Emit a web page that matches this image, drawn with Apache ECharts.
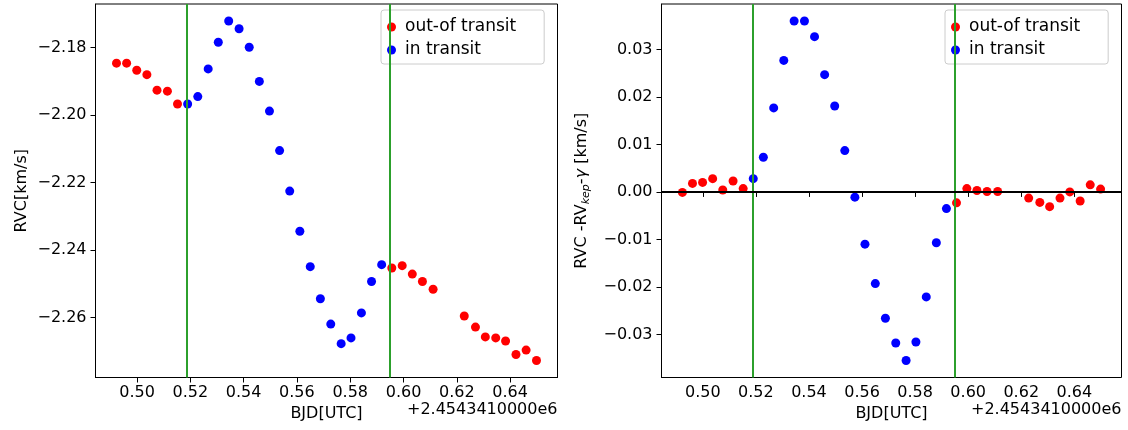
<!DOCTYPE html>
<html>
<head>
<meta charset="utf-8">
<script src="https://cdn.jsdelivr.net/npm/echarts@6/dist/echarts.min.js"></script>
<style>
  html, body { margin: 0; padding: 0; background: #ffffff; }
  #chart { width: 1128px; height: 430px; }
</style>
</head>
<body>
<div id="chart"></div>
<script>
// Observation times, days after BJD 2454341.0
const bjdOffset = [
  0.4923, 0.4961, 0.4999, 0.5037, 0.5075, 0.5114, 0.5152, 0.5190, 0.5228, 0.5267,
  0.5305, 0.5344, 0.5383, 0.5421, 0.5459, 0.5497, 0.5535, 0.5573, 0.5611, 0.5650,
  0.5688, 0.5727, 0.5766, 0.5803, 0.5842, 0.5880, 0.5918, 0.5956, 0.5995, 0.6033,
  0.6071, 0.6111, 0.6228, 0.6270, 0.6307, 0.6346, 0.6383, 0.6422, 0.6460, 0.6499
];
// Measured radial velocity [km/s]
const rvc = [
  -2.1846, -2.1846, -2.1867, -2.1880, -2.1926, -2.1929, -2.1967, -2.1967, -2.1945, -2.1863,
  -2.1784, -2.1721, -2.1744, -2.1799, -2.1900, -2.1988, -2.2105, -2.2225, -2.2344, -2.2449,
  -2.2544, -2.2619, -2.2677, -2.2660, -2.2586, -2.2493, -2.2443, -2.2453, -2.2446, -2.2471,
  -2.2493, -2.2516, -2.2595, -2.2628, -2.2657, -2.2660, -2.2669, -2.2709, -2.2696, -2.2727
];
// Residuals after removing the Keplerian orbit and systemic velocity [km/s]
const rvResidual = [
  -0.0001, 0.0018, 0.0020, 0.0028, 0.0004, 0.0023, 0.0007, 0.0028, 0.0073, 0.0177,
  0.0277, 0.0360, 0.0360, 0.0327, 0.0247, 0.0181, 0.0087, -0.0011, -0.0110, -0.0193,
  -0.0266, -0.0318, -0.0355, -0.0316, -0.0221, -0.0107, -0.0035, -0.0023, 0.0007, 0.0003,
  0.0001, 0.0001, -0.0013, -0.0022, -0.0031, -0.0013, 0.0000, -0.0019, 0.0015, 0.0006
];
// Transit ingress / egress times (same offset)
const transitEdges = [0.5188, 0.5948];

const xTicks = [0.50, 0.52, 0.54, 0.56, 0.58, 0.60, 0.62, 0.64];
const rvcTicks = [-2.18, -2.20, -2.22, -2.24, -2.26];
const residualTicks = [0.03, 0.02, 0.01, 0.00, -0.01, -0.02, -0.03];
const xOffsetLabel = '+2.4543410000e6';

const FONT = 'DejaVu Sans';
const OUT_NAME = 'out-of transit';
const IN_NAME = 'in transit';

// split points into in-transit / out-of-transit sets
function split(values) {
  const inside = [], outside = [];
  bjdOffset.forEach((t, i) => {
    const p = [t, values[i]];
    if (t >= transitEdges[0] && t <= transitEdges[1]) inside.push(p); else outside.push(p);
  });
  return { inside, outside };
}
// data limits padded by 5% on each side
function padded(arr) {
  const lo = Math.min(...arr), hi = Math.max(...arr), m = (hi - lo) * 0.05;
  return [lo - m, hi + m];
}

const xRange = padded(bjdOffset);
const rvcRange = padded(rvc);
const resRange = padded(rvResidual);
const fmt2 = v => v.toFixed(2).replace('-', '\u2212');

const leftSets = split(rvc);
const rightSets = split(rvResidual);

function xAxisFor(gridIndex) {
  return {
    type: 'value', gridIndex, min: xRange[0], max: xRange[1],
    name: 'BJD[UTC]', nameLocation: 'middle', nameGap: 24,
    nameTextStyle: { fontFamily: FONT, fontSize: 16, color: '#000', verticalAlign: 'top' },
    axisLine: { show: true, lineStyle: { color: '#000', width: 1 } },
    axisTick: { show: true, length: 5, inside: false, customValues: xTicks, lineStyle: { color: '#000', width: 1 } },
    axisLabel: { customValues: xTicks, formatter: fmt2, fontFamily: FONT, fontSize: 16, color: '#000', margin: 7 },
    splitLine: { show: false }
  };
}

function scatter(name, data, color, axisIndex) {
  return {
    type: 'scatter', name, data, xAxisIndex: axisIndex, yAxisIndex: axisIndex,
    symbolSize: 9, itemStyle: { color, opacity: 1 }, z: 2, silent: true, animation: false
  };
}

function guides(axisIndex, withZero) {
  const lines = transitEdges.map(t => ({ xAxis: t, lineStyle: { color: '#2ca02c', width: 2, type: 'solid' } }));
  if (withZero) lines.push({ yAxis: 0, lineStyle: { color: '#000', width: 2, type: 'solid' } });
  return {
    type: 'line', name: 'guides', data: [], xAxisIndex: axisIndex, yAxisIndex: axisIndex, z: 5,
    markLine: { silent: true, precision: 6, symbol: ['none', 'none'], label: { show: false }, animation: false, data: lines }
  };
}

// boxed legend in the upper right corner of a panel
function legendAt(left) {
  return {
    left, top: 10, orient: 'vertical', data: [OUT_NAME, IN_NAME],
    icon: 'circle', itemWidth: 17, itemHeight: 9, itemGap: 6, symbolKeepAspect: true,
    padding: [8.5, 28, 5.5, 6],
    backgroundColor: 'rgba(255,255,255,0.8)', borderColor: '#cccccc', borderWidth: 1, borderRadius: 3,
    textStyle: { fontFamily: FONT, fontSize: 17, color: '#000' },
    selectedMode: false
  };
}

const chart = echarts.init(document.getElementById('chart'), null, { renderer: 'canvas' });
chart.setOption({
  animation: false,
  backgroundColor: '#ffffff',
  grid: [
    { left: 95.5, top: 4, width: 462, height: 373.5, show: true, borderColor: '#000', borderWidth: 1, backgroundColor: 'transparent' },
    { left: 661.5, top: 4, width: 460, height: 373.5, show: true, borderColor: '#000', borderWidth: 1, backgroundColor: 'transparent' }
  ],
  xAxis: [xAxisFor(0), xAxisFor(1)],
  yAxis: [
    {
      type: 'value', gridIndex: 0, min: rvcRange[0], max: rvcRange[1],
      name: 'RVC[km/s]', nameLocation: 'middle', nameGap: 66,
      nameTextStyle: { fontFamily: FONT, fontSize: 16, color: '#000' },
      axisLine: { show: true, lineStyle: { color: '#000', width: 1 } },
      axisTick: { show: true, length: 5, customValues: rvcTicks, lineStyle: { color: '#000', width: 1 } },
      axisLabel: { customValues: rvcTicks, formatter: fmt2, fontFamily: FONT, fontSize: 16, color: '#000', margin: 9 },
      splitLine: { show: false }
    },
    {
      type: 'value', gridIndex: 1, min: resRange[0], max: resRange[1],
      name: 'RVC -RV{sub|kep}-{g|\u03b3} [km/s]', nameLocation: 'middle', nameGap: 70,
      nameTextStyle: {
        fontFamily: FONT, fontSize: 16, color: '#000', lineHeight: 20,
        rich: {
          sub: { fontFamily: FONT, fontSize: 11, fontStyle: 'italic', color: '#000', lineHeight: 11, verticalAlign: 'bottom' },
          g: { fontFamily: FONT, fontSize: 16, fontStyle: 'italic', color: '#000', lineHeight: 20 }
        }
      },
      axisLine: { show: true, lineStyle: { color: '#000', width: 1 } },
      axisTick: { show: true, length: 5, customValues: residualTicks, lineStyle: { color: '#000', width: 1 } },
      axisLabel: { customValues: residualTicks, formatter: fmt2, fontFamily: FONT, fontSize: 16, color: '#000', margin: 9 },
      splitLine: { show: false }
    }
  ],
  legend: [legendAt(381), legendAt(945)],
  graphic: [
    { type: 'text', right: 1128 - 557.5, top: 402, style: { text: xOffsetLabel, fontFamily: FONT, fontSize: 16, fill: '#000' } },
    { type: 'text', right: 1128 - 1121.5, top: 402, style: { text: xOffsetLabel, fontFamily: FONT, fontSize: 16, fill: '#000' } }
  ],
  series: [
    scatter(OUT_NAME, leftSets.outside, '#ff0000', 0),
    scatter(IN_NAME, leftSets.inside, '#0000ff', 0),
    guides(0, false),
    scatter(OUT_NAME, rightSets.outside, '#ff0000', 1),
    scatter(IN_NAME, rightSets.inside, '#0000ff', 1),
    guides(1, true)
  ]
});
</script>
</body>
</html>
